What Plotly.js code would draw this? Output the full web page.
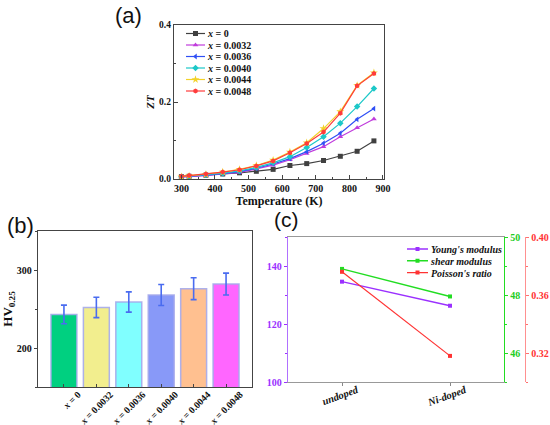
<!DOCTYPE html>
<html>
<head>
<meta charset="utf-8">
<script src="https://cdn.plot.ly/plotly-3.0.1.min.js"></script>
<style>html,body{margin:0;padding:0;background:#fff;}#gd{width:550px;height:425px;}</style>
</head>
<body>
<div id="gd"></div>
<script>
// ---------- Panel (a): ZT vs temperature ----------
const temperature = [300, 323, 373, 423, 473, 523, 573, 623, 673, 723, 773, 823, 873];
const zt_x0     = [0.006, 0.007, 0.010, 0.013, 0.016, 0.020, 0.025, 0.035, 0.040, 0.048, 0.059, 0.072, 0.099];
const zt_x0032  = [0.005, 0.006, 0.009, 0.013, 0.017, 0.026, 0.036, 0.050, 0.066, 0.084, 0.110, 0.133, 0.156];
const zt_x0036  = [0.006, 0.007, 0.010, 0.014, 0.019, 0.028, 0.039, 0.053, 0.071, 0.093, 0.119, 0.155, 0.183];
const zt_x0040  = [0.006, 0.007, 0.011, 0.015, 0.021, 0.030, 0.042, 0.058, 0.082, 0.110, 0.145, 0.188, 0.235];
const zt_x0044  = [0.006, 0.008, 0.012, 0.018, 0.025, 0.035, 0.049, 0.070, 0.094, 0.131, 0.175, 0.243, 0.276];
const zt_x0048  = [0.007, 0.009, 0.013, 0.018, 0.024, 0.034, 0.047, 0.068, 0.092, 0.122, 0.171, 0.242, 0.274];
const seriesNames = ['<i>x</i> = 0', '<i>x</i> = 0.0032', '<i>x</i> = 0.0036', '<i>x</i> = 0.0040', '<i>x</i> = 0.0044', '<i>x</i> = 0.0048'];

// ---------- Panel (b): hardness ----------
const hvCategories = ['<i>x</i> = 0', '<i>x</i> = 0.0032', '<i>x</i> = 0.0036', '<i>x</i> = 0.0040', '<i>x</i> = 0.0044', '<i>x</i> = 0.0048'];
const hvValues = [243, 252, 259, 268, 276, 282];
const hvErrors = [12, 13, 13, 13.5, 14, 14];

// ---------- Panel (c): elastic properties ----------
const sampleCats = ['undoped', 'Ni-doped'];
const youngsModulus = [134.6, 126.3];
const shearModulus = [48.9, 47.95];
const poissonRatio = [0.376, 0.318];

const SERIF = 'Liberation Serif, Times New Roman, serif';
const SANS = 'Liberation Sans, Arial, sans-serif';
const tf = (size, color) => ({family: SERIF, size: size, weight: 'bold', color: color || '#111'});

const ztSeries = [zt_x0, zt_x0032, zt_x0036, zt_x0040, zt_x0044, zt_x0048];
const ztColors = ['#404040', '#C03CDC', '#2F4FF5', '#1CC8C8', '#F2D22A', '#FF3B3B'];
const ztSymbols = ['square', 'triangle-up', 'triangle-left', 'diamond', 'star', 'hexagon'];

const traces = [];
ztSeries.forEach((ys, i) => {
  traces.push({
    type: 'scatter', mode: 'lines+markers',
    x: temperature, y: ys, name: seriesNames[i],
    xaxis: 'x', yaxis: 'y', legend: 'legend',
    line: {color: ztColors[i], width: 1.2},
    marker: {color: ztColors[i], symbol: ztSymbols[i], size: i === 4 ? 6 : 5}
  });
});

const hvColors = ['#00D080', '#F2EE8E', '#80FFFF', '#8899F8', '#FFC090', '#FF66FF'];
traces.push({
  type: 'bar', x: hvCategories, y: hvValues, xaxis: 'x2', yaxis: 'y2',
  showlegend: false, width: 0.8,
  marker: {color: hvColors, line: {color: 'rgba(165,170,235,0.9)', width: 1.5}},
  error_y: {type: 'data', array: hvErrors, color: '#4A6CF0', thickness: 1.6, width: 3}
});

traces.push({
  type: 'scatter', mode: 'lines+markers', x: sampleCats, y: youngsModulus,
  name: "<i>Young's modulus</i>", xaxis: 'x3', yaxis: 'y3', legend: 'legend2',
  line: {color: '#9B30FF', width: 1.4}, marker: {color: '#9B30FF', symbol: 'square', size: 4}
});
traces.push({
  type: 'scatter', mode: 'lines+markers', x: sampleCats, y: shearModulus,
  name: '<i>shear modulus</i>', xaxis: 'x3', yaxis: 'y4', legend: 'legend2',
  line: {color: '#22DD22', width: 1.4}, marker: {color: '#22DD22', symbol: 'square', size: 4}
});
traces.push({
  type: 'scatter', mode: 'lines+markers', x: sampleCats, y: poissonRatio,
  name: "<i>Poisson's ratio</i>", xaxis: 'x3', yaxis: 'y5', legend: 'legend2',
  line: {color: '#FF3333', width: 1.2}, marker: {color: '#FF3333', symbol: 'square', size: 4}
});

const W = 550, H = 425;
const px = v => v / W, py = v => 1 - v / H;

const layout = {
  width: W, height: H, margin: {l: 0, r: 0, t: 0, b: 0},
  paper_bgcolor: '#fff', plot_bgcolor: 'rgba(0,0,0,0)',
  font: {family: SERIF, color: '#111'},
  xaxis: {
    domain: [px(174), px(384)], anchor: 'y', range: [278, 903],
    tickvals: [300, 400, 500, 600, 700, 800, 900], ticks: 'inside', ticklen: 4,
    minor: {dtick: 50, ticks: 'inside', ticklen: 2, tickcolor: '#444'},
    showline: true, linecolor: '#444', linewidth: 1.2, mirror: true, zeroline: false, showgrid: false,
    tickfont: tf(10), tickcolor: '#444',
    title: {text: 'Temperature (K)', font: tf(12), standoff: 3}
  },
  yaxis: {
    domain: [py(179), py(25)], anchor: 'x', range: [0, 0.4],
    tickvals: [0, 0.2, 0.4], ticktext: ['0.0', '0.2', '0.4'], ticks: 'inside', ticklen: 4,
    minor: {dtick: 0.1, ticks: 'inside', ticklen: 2, tickcolor: '#444'},
    showline: true, linecolor: '#444', linewidth: 1.2, mirror: true, zeroline: false, showgrid: false,
    tickfont: tf(9.5), tickcolor: '#444',
    title: {text: '<i>ZT</i>', font: tf(11), standoff: 2}
  },
  xaxis2: {
    domain: [px(38), px(252)], anchor: 'y2', range: [-0.8, 5.8], type: 'category',
    ticks: 'inside', ticklen: 3, tickcolor: '#444', tickangle: -45, ticklabelshift: 14, ticklabelstandoff: -3,
    showline: true, linecolor: '#444', linewidth: 1.2, mirror: true, showgrid: false,
    tickfont: tf(9.6)
  },
  yaxis2: {
    domain: [py(387), py(231)], anchor: 'x2', range: [150, 350],
    tickvals: [200, 300], ticks: 'outside', ticklen: 3, tickcolor: '#444',
    minor: {dtick: 50, ticks: 'outside', ticklen: 2, tickcolor: '#444'},
    showline: true, linecolor: '#444', linewidth: 1.2, mirror: true, zeroline: false, showgrid: false,
    tickfont: tf(10),
    title: {text: 'HV<sub>0.25</sub>', font: tf(13), standoff: 8}
  },
  xaxis3: {
    domain: [px(288), px(504)], anchor: 'y3', range: [-0.5, 1.5], type: 'category',
    ticks: 'outside', ticklen: 3, tickcolor: '#888', tickangle: -20, ticklabelshift: 15, ticklabelstandoff: -6,
    showline: true, linecolor: '#999', linewidth: 1.2, mirror: true, showgrid: false,
    tickfont: {family: SERIF, size: 10.5, weight: 'bold', style: 'italic', color: '#111'}
  },
  yaxis3: {
    domain: [py(382), py(237)], anchor: 'x3', range: [100, 150],
    tickvals: [100, 120, 140], ticks: 'outside', ticklen: 3, tickcolor: '#9B30FF',
    minor: {dtick: 10, ticks: 'outside', ticklen: 2, tickcolor: '#9B30FF'},
    showline: true, linecolor: '#B070FF', linewidth: 1.2, zeroline: false, showgrid: false,
    tickfont: tf(10, '#9B30FF')
  },
  yaxis4: {
    overlaying: 'y3', side: 'right', anchor: 'x3', range: [45, 50],
    tickvals: [46, 48, 50], ticks: 'outside', ticklen: 3, tickcolor: '#22DD22',
    minor: {dtick: 1, ticks: 'outside', ticklen: 2, tickcolor: '#22DD22'},
    showline: true, linecolor: '#22DD22', linewidth: 1.2, zeroline: false, showgrid: false,
    tickfont: tf(10, '#22CC22')
  },
  yaxis5: {
    overlaying: 'y3', side: 'right', anchor: 'free', position: px(525), range: [0.30, 0.40],
    tickvals: [0.32, 0.36, 0.40], ticktext: ['0.32', '0.36', '0.40'], ticks: 'outside', ticklen: 3, tickcolor: '#FF7070',
    minor: {dtick: 0.02, ticks: 'outside', ticklen: 2, tickcolor: '#FF7070'},
    showline: true, linecolor: '#FF9090', linewidth: 1.2, zeroline: false, showgrid: false,
    tickfont: tf(10, '#FF3333')
  },
  legend: {
    x: px(168), y: py(19), xanchor: 'left', yanchor: 'top',
    bgcolor: 'rgba(0,0,0,0)', borderwidth: 0, itemwidth: 30,
    font: tf(10), tracegroupgap: 0
  },
  legend2: {
    x: px(391), y: py(234.5), xanchor: 'left', yanchor: 'top',
    bgcolor: 'rgba(0,0,0,0)', borderwidth: 0, itemwidth: 30,
    font: {family: SERIF, size: 10, weight: 'bold', style: 'italic', color: '#111'}, tracegroupgap: 0
  },
  annotations: [
    {text: '(a)', x: px(128), y: py(16), xref: 'paper', yref: 'paper', xanchor: 'center', yanchor: 'middle', showarrow: false, font: {family: SANS, size: 22, color: '#111'}},
    {text: '(b)', x: px(20), y: py(225), xref: 'paper', yref: 'paper', xanchor: 'center', yanchor: 'middle', showarrow: false, font: {family: SANS, size: 22, color: '#111'}},
    {text: '(c)', x: px(286), y: py(219), xref: 'paper', yref: 'paper', xanchor: 'center', yanchor: 'middle', showarrow: false, font: {family: SANS, size: 21, color: '#111'}}
  ]
};

const gd = document.getElementById('gd');

function compressLegend(id, spacing, lineStart, lineLen) {
  const box = gd.querySelector('g.' + id);
  if (!box) return;
  const items = box.querySelectorAll('g.traces');
  if (!items.length) return;
  const parse = el => {
    const m = /translate\(\s*([-\d.e]+)[ ,]+([-\d.e]+)/.exec(el.getAttribute('transform') || '');
    return m ? [parseFloat(m[1]), parseFloat(m[2])] : [0, 0];
  };
  const y0 = parse(items[0])[1];
  items.forEach((el, i) => {
    const p = parse(el);
    el.setAttribute('transform', 'translate(' + p[0] + ',' + (y0 + i * spacing) + ')');
    el.querySelectorAll('path.js-line').forEach(l => l.setAttribute('d', 'M' + lineStart + ',0h' + lineLen));
    el.querySelectorAll('g.legendpoints path.scatterpts').forEach(m => m.setAttribute('transform', 'translate(' + (lineStart + lineLen / 2) + ',0)'));
  });
}

Plotly.newPlot(gd, traces, layout, {staticPlot: true, displayModeBar: false}).then(() => {
  compressLegend('legend', 11.5, 18, 19);
  compressLegend('legend2', 11.8, 16, 21);
});
</script>
</body>
</html>
